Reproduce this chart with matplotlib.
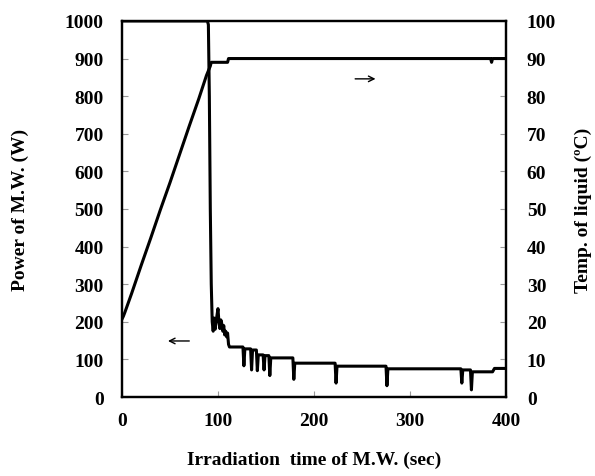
import matplotlib.pyplot as plt

plt.rcParams['font.family'] = ['Liberation Serif', 'DejaVu Serif']
plt.rcParams['font.weight'] = 'bold'

# power of M.W. (left axis)
t_power = [0, 89, 90, 91, 92, 93, 94, 95, 96, 97, 98, 100, 101, 102, 103, 104, 105, 106,
           107, 108, 109, 110, 111, 112, 126, 127, 128, 134, 135, 136, 140, 141, 142,
           147, 148, 149, 153, 154, 155, 178, 179, 180, 222, 223, 224, 275, 276, 277,
           353, 354, 355, 363, 364, 365, 386, 388, 400]
power = [1000, 1000, 990, 800, 500, 300, 200, 175, 210, 180, 200, 235, 200, 182, 205, 195, 175, 190,
         165, 175, 160, 170, 140, 133, 133, 83, 128, 128, 72, 125, 125, 70, 112,
         112, 72, 110, 110, 57, 104, 104, 47, 90, 90, 37, 82, 82, 30, 75,
         75, 37, 72, 72, 19, 67, 67, 76, 76]

# temperature of liquid (right axis)
t_temp = [0, 1.5, 3, 10, 20, 30, 40, 50, 60, 70, 80, 88, 92, 93, 110, 111, 384, 385, 386, 400]
temp = [20.7, 21.5, 22.5, 27.5, 35, 42.3, 49.8, 57, 64.5, 72, 79.3, 85.5, 88, 89, 89, 90, 90, 89, 90, 90]

fig = plt.figure(figsize=(5.95, 4.77), dpi=100)
ax = fig.add_axes([0.205, 0.1656, 0.6454, 0.7884])
ax.plot(t_power, power, color='black', lw=2.2)
ax.set_xlim(0, 400)
ax.set_ylim(0, 1000)
ax.set_xticks(range(0, 401, 100))
ax.set_yticks(range(0, 1001, 100))
ax.set_ylabel('Power of M.W. (W)', fontsize=14, fontweight='bold')
ax.set_xlabel('Irradiation  time of M.W. (sec)', fontsize=14, fontweight='bold')
ax.yaxis.set_label_coords(-0.243, 0.5)
ax.xaxis.set_label_coords(0.5, -0.143)

ax2 = ax.twinx()
ax2.plot(t_temp, temp, color='black', lw=2.2)
ax2.set_ylim(0, 100)
ax2.set_yticks(range(0, 101, 10))
ax2.set_ylabel('Temp. of liquid (ºC)', fontsize=14, fontweight='bold')
ax2.yaxis.set_label_coords(1.178, 0.5)

for a in (ax, ax2):
    a.tick_params(direction='in', length=4, width=0.8, color='#999999', labelsize=14)
    for s in a.spines.values():
        s.set_linewidth(1.6)
        s.set_color('black')
ax.tick_params(axis='x', pad=11)
ax.tick_params(axis='y', pad=13)
ax2.tick_params(axis='y', pad=15)
for lab in ax.get_xticklabels() + ax.get_yticklabels() + ax2.get_yticklabels():
    lab.set_fontweight('bold')

ax.annotate('', xy=(45, 149), xytext=(73, 149),
            arrowprops=dict(arrowstyle='->', color='black', lw=1.0))
ax2.annotate('', xy=(267, 84.6), xytext=(240, 84.6),
             arrowprops=dict(arrowstyle='->', color='black', lw=1.0))

fig.savefig('out.png')
